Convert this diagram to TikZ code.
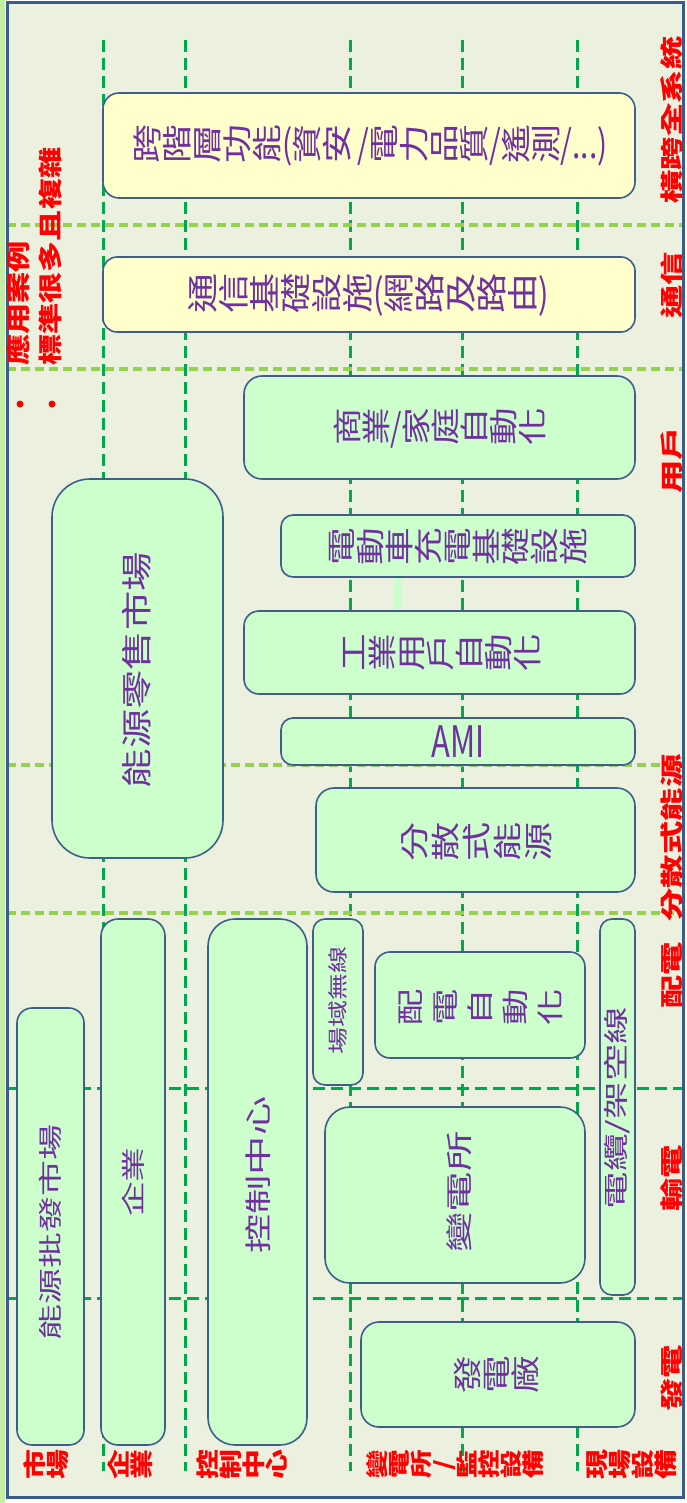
\documentclass[tikz,border=0pt]{standalone}
\usepackage{fontspec}
\usepackage{graphicx}
\setmainfont{Noto Sans CJK TC}
\definecolor{bgc}{RGB}{235,241,222}
\definecolor{bdr}{RGB}{64,94,138}
\definecolor{framec}{RGB}{56,93,138}
\definecolor{lgreen}{RGB}{204,255,204}
\definecolor{lyellow}{RGB}{255,255,204}
\definecolor{dgreen}{RGB}{0,170,75}
\definecolor{lgdash}{RGB}{150,208,80}
\definecolor{strip}{RGB}{195,237,165}
\definecolor{purp}{RGB}{112,48,160}
\definecolor{redc}{RGB}{255,0,0}
% one CJK character turned a quarter turn counter-clockwise
\newcommand\rch[1]{\rotatebox[origin=c]{90}{\makebox[1em]{\rule[-0.12em]{0pt}{1em}#1}}}
\def\rtend{\relax rtend}
\def\rt#1{\rtloop#1\rtend}
\def\rtloop#1{\ifx#1\rtend\else\rch{#1}\expandafter\rtloop\fi}
\begin{document}
\begin{tikzpicture}[x=1pt,y=-1pt,
  gbox/.style={draw=bdr, fill=lgreen, line width=1.6pt, inner sep=0pt, rounded corners=14pt},
  ybox/.style={gbox, fill=lyellow},
  btxt/.style={text=purp, inner sep=0pt, font=\fontsize{29}{30}\selectfont},
  vtxt/.style={btxt, rotate=90},
  rlab/.style={text=redc, rotate=90, inner sep=0pt, font=\bfseries\fontsize{23}{24}\selectfont},
  blab/.style={text=redc, inner sep=0pt, font=\bfseries\fontsize{23}{24}\selectfont},
  vdash/.style={draw=dgreen, line width=3pt, dash pattern=on 12pt off 6pt},
  ldash/.style={draw=lgdash, line width=3.5pt, dash pattern=on 9pt off 5pt},
  framestyle/.style={draw=framec, line width=3pt},
  bullet/.style={circle, fill=redc, inner sep=0pt, minimum size=7pt}]
\useasboundingbox (0,0) rectangle (686,1503);
\fill[white] (0,0) rectangle (686,1503);
\fill[strip] (0,0) rectangle (5,1503);
\fill[bgc] (7,3) rectangle (683,1497);
% grid lines
\foreach \x in {103,185,350,462,577} \draw[vdash] (\x,40) -- (\x,1471);
\foreach \y in {225,369,765,913} \draw[ldash] (7,\y) -- (683,\y);
\foreach \y in {1088,1298} \draw[vdash] (7,\y) -- (683,\y);
\fill[lgreen] (394,577) rectangle (402,611);
\draw[framestyle] (7,3) rectangle (683,1497);
% boxes
\node[ybox, rounded corners=16pt, minimum width=532pt, minimum height=105pt] (cross) at (369,145.5) {};
\node[ybox, rounded corners=14pt, minimum width=532pt, minimum height=75pt] (comm) at (369,294.5) {};
\node[gbox, rounded corners=18pt, minimum width=391pt, minimum height=103pt] (bizhome) at (439.5,427.5) {};
\node[gbox, rounded corners=38pt, minimum width=171pt, minimum height=379pt] (retail) at (137.5,668.5) {};
\node[gbox, rounded corners=12pt, minimum width=354pt, minimum height=62pt] (ev) at (458,546) {};
\node[gbox, rounded corners=15pt, minimum width=391pt, minimum height=83pt] (indus) at (439.5,652.5) {};
\node[gbox, rounded corners=12pt, minimum width=354pt, minimum height=47pt] (ami) at (458,741.5) {};
\node[gbox, rounded corners=18pt, minimum width=319pt, minimum height=104pt] (der) at (475.5,840) {};
\node[gbox, rounded corners=17pt, minimum width=64pt, minimum height=526pt] (ent) at (133,1182) {};
\node[gbox, rounded corners=27pt, minimum width=99pt, minimum height=526pt] (ctrl) at (257.5,1182) {};
\node[gbox, rounded corners=12pt, minimum width=50pt, minimum height=166pt] (fieldwl) at (338,1002) {};
\node[gbox, rounded corners=15pt, minimum width=210pt, minimum height=106pt] (distauto) at (480,1005) {};
\node[gbox, rounded corners=12pt, minimum width=35pt, minimum height=376pt] (cable) at (617.5,1107) {};
\node[gbox, rounded corners=15pt, minimum width=67pt, minimum height=437pt] (whole) at (50.5,1226.5) {};
\node[gbox, rounded corners=25pt, minimum width=260pt, minimum height=176pt] (subst) at (455,1195) {};
\node[gbox, rounded corners=18pt, minimum width=274pt, minimum height=105pt] (plant) at (498,1374.5) {};
% texts in boxes (characters turned)
\node[btxt, font=\fontsize{30}{31}\selectfont] (tcross) at (370,145) {\scalebox{1}[1.3]{\rt{跨階層功能}(\rt{資安}\,/\rt{電力品質}/\rt{遙測}/...)}};
\node[btxt, font=\fontsize{31}{32}\selectfont] (tcomm) at (368,295) {\scalebox{1}[1.3]{\rt{通信基礎設施}(\rt{網路及路由})}};
\node[btxt] (tbiz) at (440,428) {\scalebox{1}[1.3]{\rt{商業}/\rt{家庭自動化}}};
\node[btxt] (tev) at (457,547) {\scalebox{1}[1.3]{\rt{電動車充電基礎設施}}};
\node[btxt] (tind) at (440,653) {\scalebox{1}[1.3]{\rt{工業用戶自動化}}};
\node[btxt, font=\fontsize{31}{32}\selectfont] (tami) at (458,742) {\scalebox{1}[1.4]{AMI}};
\node[btxt] (tder) at (476,842) {\scalebox{1}[1.35]{\rch{分}\hspace{2pt}\rch{散}\hspace{2pt}\rch{式}\hspace{2pt}\rch{能}\hspace{2pt}\rch{源}}};
\node[btxt, font=\fontsize{27}{28}\selectfont] (tdist) at (480,1007) {\scalebox{1}[1.35]{\rch{配}\hspace{8pt}\rch{電}\hspace{8pt}\rch{自}\hspace{8pt}\rch{動}\hspace{8pt}\rch{化}}};
\node[btxt] (tplant) at (496,1375) {\scalebox{1}[1.3]{\rt{發電廠}}};
% texts in boxes (whole line turned)
\node[vtxt, font=\fontsize{31}{32}\selectfont] (tretail) at (137,670) {\scalebox{1.27}[1]{能源零售市場}};
\node[vtxt, font=\fontsize{20}{21}\selectfont] (tfield) at (338,1000) {\scalebox{1.35}[1]{場域無線}};
\node[vtxt, font=\fontsize{25}{26}\selectfont] (tcable) at (617,1108) {\scalebox{1.5}[1]{電纜/架空線}};
\node[vtxt, font=\fontsize{27}{28}\selectfont] (tsubst) at (459,1192) {\scalebox{1.5}[1]{變電所}};
\node[vtxt, font=\fontsize{27}{28}\selectfont] (tctrl) at (258,1175) {\scalebox{1.45}[1]{控制中心}};
\node[vtxt, font=\fontsize{24}{25}\selectfont] (tent) at (133,1182) {\scalebox{1.45}[1]{企業}};
\node[vtxt, font=\fontsize{24}{25}\selectfont] (twhole) at (50,1232) {\scalebox{1.5}[1]{能源批發市場}};
% right labels
\node[rlab] (r1) at (672,120) {\scalebox{1.45}[1]{橫跨全系統}};
\node[rlab] (r2) at (672,285) {\scalebox{1.45}[1]{通信}};
\node[rlab] (r3) at (672,460) {\scalebox{1.45}[1]{用戶}};
\node[rlab] (r4) at (672,838) {\scalebox{1.45}[1]{分散式能源}};
\node[rlab] (r5) at (672,975) {\scalebox{1.45}[1]{配電}};
\node[rlab] (r6) at (672,1178) {\scalebox{1.45}[1]{輸電}};
\node[rlab] (r7) at (672,1378) {\scalebox{1.45}[1]{發電}};
% bottom labels
\node[blab] (b1) at (46,1465) {\scalebox{1}[1.3]{\rt{市場}}};
\node[blab] (b2) at (130,1465) {\scalebox{1}[1.3]{\rt{企業}}};
\node[blab] (b3) at (242,1465) {\scalebox{1}[1.3]{\rt{控制中心}}};
\node[blab, font=\bfseries\fontsize{22}{23}\selectfont] (b4) at (455,1465) {\scalebox{1}[1.3]{\rt{變電所/監控設備}}};
\node[blab] (b5) at (631,1465) {\scalebox{1}[1.3]{\rt{現場設備}}};
% left note
\node[bullet] (bul1) at (20,404) {};
\node[bullet] (bul2) at (52,404) {};
\node[rlab, anchor=west, font=\bfseries\fontsize{24}{25}\selectfont] (lt1) at (18,366) {\scalebox{1.3}[1]{應用案例}};
\node[rlab, anchor=west, font=\bfseries\fontsize{24}{25}\selectfont] (lt2) at (50,366) {\scalebox{1.3}[1]{標準很多且複雜}};
\end{tikzpicture}
\end{document}
